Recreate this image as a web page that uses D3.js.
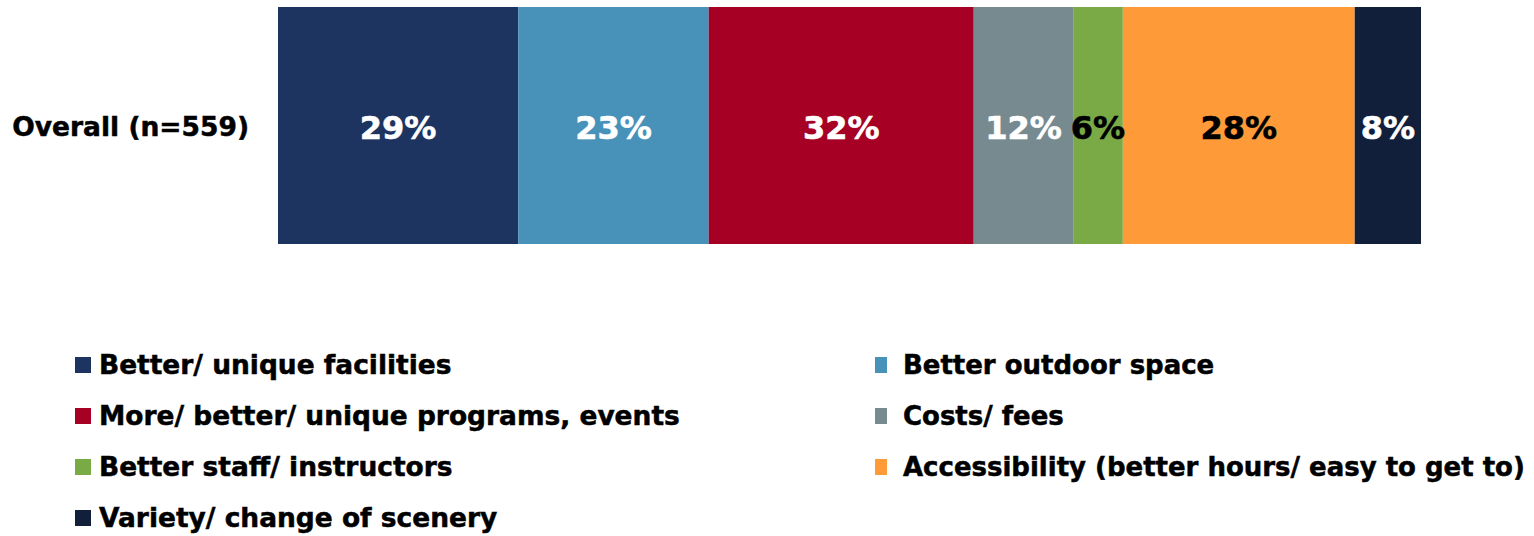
<!DOCTYPE html>
<html><head><meta charset="utf-8">
<script src="https://cdn.jsdelivr.net/npm/d3@7"></script>
<style>body{margin:0;background:#fff}svg{display:block}text{font-family:"DejaVu Sans",Verdana,sans-serif;font-weight:bold}</style>
</head><body>
<svg id="c" width="1534" height="536"></svg>
<script>
const rowLabels = ["Overall (n=559)"];
const categories = ["Better/ unique facilities","Better outdoor space","More/ better/ unique programs, events","Costs/ fees","Better staff/ instructors","Accessibility (better hours/ easy to get to)","Variety/ change of scenery"];
const values = [29,23,32,12,6,28,8];
const colors = ["#1D3461","#4891B9","#A60024","#778A90","#7AAA46","#FE9B38","#121F3B"];
const labelColors = ["#fff","#fff","#fff","#fff","#000","#000","#fff"];

const svg = d3.select("#c");
const total = d3.sum(values);
const x = d3.scaleLinear().domain([0,total]).range([278,1421]);
const y = d3.scaleBand().domain(rowLabels).range([7,244]).padding(0);

let cum = 0;
const segs = values.map((v,i)=>{const s={i,v,x0:cum,x1:cum+v};cum+=v;return s;});

svg.selectAll("rect.bar").data(segs).join("rect").attr("class","bar")
  .attr("x",d=>x(d.x0)).attr("width",d=>x(d.x1)-x(d.x0))
  .attr("y",y(rowLabels[0])).attr("height",y.bandwidth())
  .attr("fill",d=>colors[d.i]);

svg.selectAll("text.val").data(segs).join("text").attr("class","val")
  .attr("x",d=>(x(d.x0)+x(d.x1))/2).attr("y",y(rowLabels[0])+y.bandwidth()/2)
  .attr("dy","0.42em").attr("text-anchor","middle")
  .attr("font-size",32).attr("fill",d=>labelColors[d.i])
  .attr("stroke",d=>labelColors[d.i]).attr("stroke-width",0.6)
  .text(d=>d.v+"%");

svg.selectAll("text.row").data(rowLabels).join("text").attr("class","row")
  .attr("x",249).attr("y",d=>y(d)+y.bandwidth()/2).attr("dy","0.4em")
  .attr("text-anchor","end").attr("font-size",26.5).attr("fill","#000")
  .attr("stroke","#000").attr("stroke-width",0.5).text(d=>d);

// legend: two columns
const legend = svg.append("g");
const cols = [{x:75, tx:99, target:581, sqW:16}, {x:875, tx:903, target:622, sqW:12}];
const rowY = [365,416,467,518];
categories.forEach((c,i)=>{
  const col = cols[i%2], r = Math.floor(i/2);
  legend.append("rect").attr("x",col.x).attr("y",rowY[r]-8).attr("width",col.sqW).attr("height",16).attr("fill",colors[i]);
  legend.append("text").attr("class","lg c"+(i%2)).attr("x",col.tx).attr("y",rowY[r]).attr("dy","0.35em")
    .attr("font-size",26).attr("fill","#000").attr("stroke","#000").attr("stroke-width",0.5).text(c);
});
cols.forEach((col,k)=>{
  const nodes = legend.selectAll("text.c"+k).nodes();
  const w = d3.max(nodes,n=>n.getComputedTextLength());
  const s = col.target / w;
  nodes.forEach(n=>{ d3.select(n).attr("transform",`translate(${col.tx},0) scale(${s},1) translate(${-col.tx},0)`); });
});
</script>
</body></html>
